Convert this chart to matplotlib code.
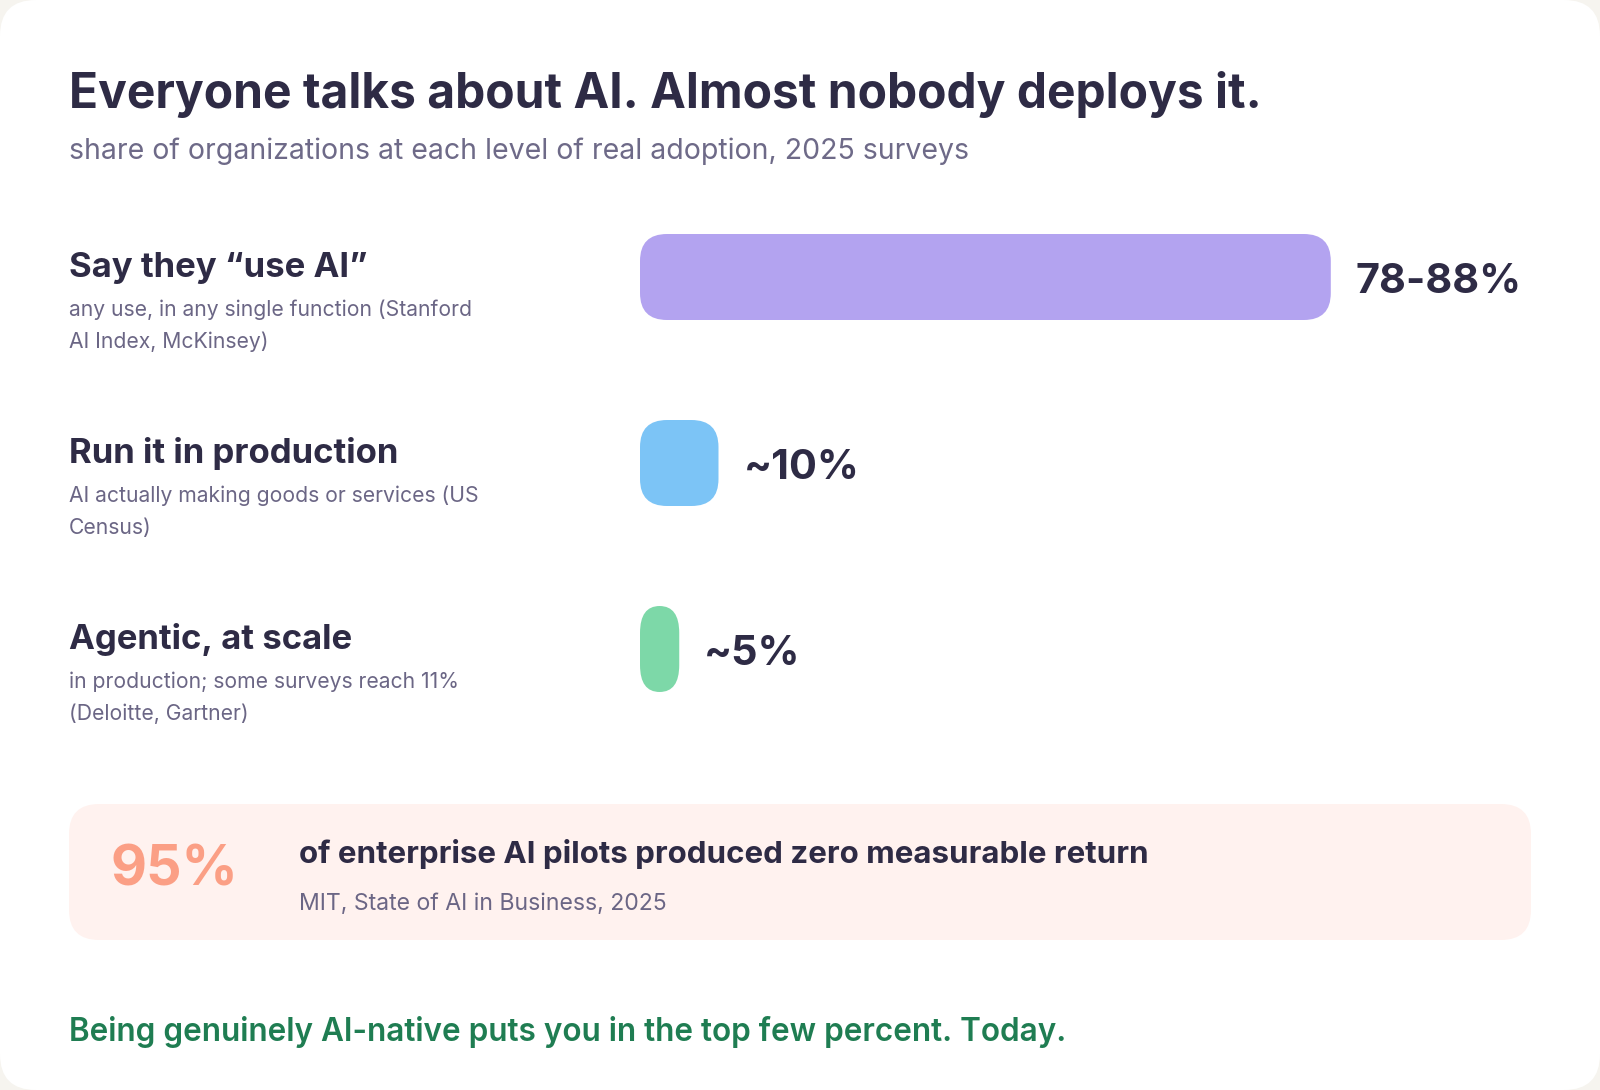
import matplotlib
matplotlib.use("Agg")
import matplotlib.pyplot as plt
from matplotlib.patches import FancyBboxPatch

# data
labels = ["Say they \u201cuse AI\u201d", "Run it in production", "Agentic, at scale"]
notes = [
    "any use, in any single function (Stanford\nAI Index, McKinsey)",
    "AI actually making goods or services (US\nCensus)",
    "in production; some surveys reach 11%\n(Deloitte, Gartner)",
]
values = [88, 10, 5]
value_text = ["78-88%", "~10%", "~5%"]
colors = ["#b3a3f0", "#7cc4f6", "#7dd8a8"]

title = "Everyone talks about AI. Almost nobody deploys it."
subtitle = "share of organizations at each level of real adoption, 2025 surveys"
callout_big = "95%"
callout_head = "of enterprise AI pilots produced zero measurable return"
callout_src = "MIT, State of AI in Business, 2025"
footer = "Being genuinely AI-native puts you in the top few percent. Today."

W, H = 1600, 1090
dark = "#2e2b45"
muted = "#6b6685"
font = ["Inter", "DejaVu Sans"]


def fx(x):
    return x / W


def fy(y):
    return 1 - y / H


def main():
    plt.rcParams["font.family"] = font
    fig = plt.figure(figsize=(W / 100, H / 100), dpi=100, facecolor="#f6f4ef")

    # white card behind everything
    card = FancyBboxPatch((0, 0), W, H, boxstyle="round,pad=0,rounding_size=36",
                          transform=None, facecolor="white", edgecolor="none", zorder=-3)
    fig.patches.append(card)

    fig.text(fx(69), fy(108), title, fontsize=34.5, fontweight="bold", color=dark,
             va="baseline", ha="left")
    fig.text(fx(69), fy(159), subtitle, fontsize=20.5, color="#6e6a88",
             va="baseline", ha="left")

    # bar axes: rows 186 px apart, first row centre at y=277
    row_px = 186
    top = 277 - row_px / 2
    n = len(values)
    x0, x1 = 640, 1425
    ax = fig.add_axes([fx(x0), fy(top + n * row_px), (x1 - x0) / W, n * row_px / H])
    ax.set_xlim(0, 100)
    ax.set_ylim(n - 0.5, -0.5)
    ax.axis("off")

    bar_h = 86 / row_px
    bars = ax.barh(range(n), values, height=bar_h, color=colors)
    px_x = (x1 - x0) / 100
    for rect, c in zip(bars, colors):
        x, y = rect.get_x(), rect.get_y()
        w, h = rect.get_width(), rect.get_height()
        rx = min(27, w * px_x / 2)   # corner radius in px, horizontal
        ry = 27                      # vertical
        aspect = (ry / row_px) / (rx / px_x)
        rect.set_visible(False)
        ax.add_patch(FancyBboxPatch((x, y), w, h,
                                    boxstyle=f"round,pad=0,rounding_size={rx / px_x}",
                                    mutation_aspect=aspect, facecolor=c, edgecolor="none"))

    for i, (v, t) in enumerate(zip(values, value_text)):
        ax.text(v + 25 / px_x, i + 5 / row_px, t, fontsize=29.8, fontweight="bold",
                color=dark, va="center", ha="left")

    for i, (lab, note) in enumerate(zip(labels, notes)):
        yc = 277 + i * row_px
        fig.text(fx(69), fy(yc), lab, fontsize=25, fontweight="bold", color=dark,
                 va="baseline", ha="left")
        for j, line in enumerate(note.split("\n")):
            fig.text(fx(69), fy(yc + 39 + j * 32), line, fontsize=15.2, color=muted,
                     va="baseline", ha="left")

    # callout box
    box = FancyBboxPatch((69, H - 940), 1531 - 69, 940 - 804,
                         boxstyle="round,pad=0,rounding_size=30", transform=None,
                         facecolor="#fff2ef", edgecolor="none", zorder=-2)
    fig.patches.append(box)
    fig.text(fx(110), fy(870), callout_big, fontsize=40, fontweight="bold",
             color="#fb9f85", va="center", ha="left")
    fig.text(fx(299), fy(863), callout_head, fontsize=22.5, fontweight="bold",
             color=dark, va="baseline", ha="left")
    fig.text(fx(299), fy(910), callout_src, fontsize=16.6, color=muted,
             va="baseline", ha="left")

    fig.text(fx(69), fy(1041), footer, fontsize=22.7, fontweight="semibold",
             color="#1f7d52", va="baseline", ha="left")

    fig.savefig("out.png", dpi=100, facecolor=fig.get_facecolor())


if __name__ == "__main__":
    main()
